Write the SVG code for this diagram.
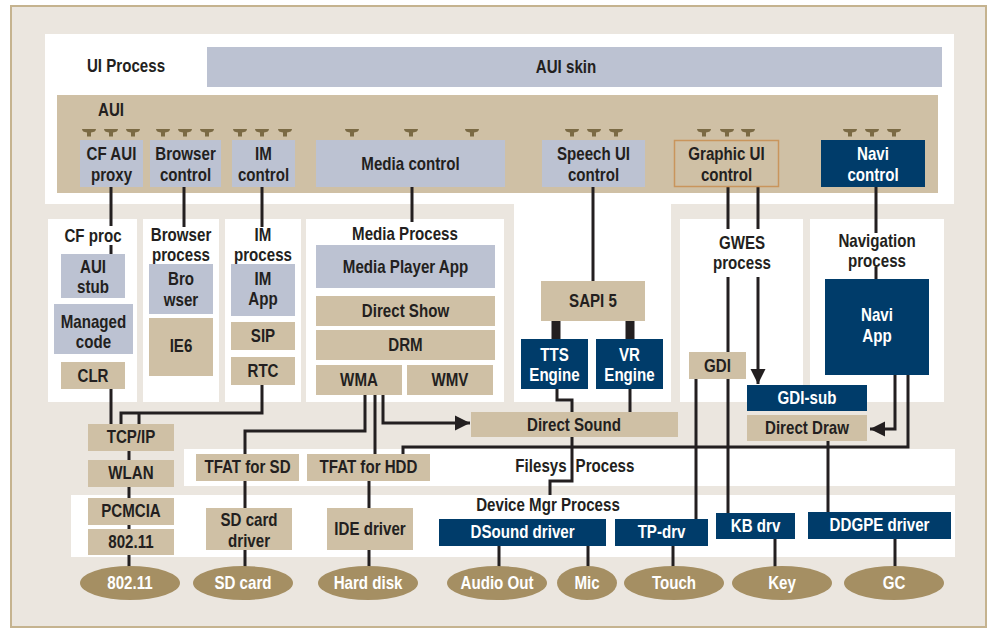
<svg xmlns="http://www.w3.org/2000/svg" width="992" height="629" viewBox="0 0 992 629">
<style>
.t{font-family:"Liberation Sans",Arial,sans-serif;font-weight:bold;font-size:18px;fill:#231f20;text-anchor:middle;dominant-baseline:central;transform-box:fill-box;transform-origin:center;transform:scaleX(0.84)}
.w{fill:#ffffff}
.pan{fill:#ffffff}
.blue{fill:#bcc2d2}
.tan{fill:#cfc0a5}
.navy{fill:#003c6a}
.ell{fill:#a58f63}
.ln{fill:none;stroke:#231f20;stroke-width:3}
.thick{fill:none;stroke:#231f20;stroke-width:9}
</style>
<defs>
<path id="tee" d="M-7,0 H7 Q7,3 2,3.5 V7.5 H-2 V3.5 Q-7,3 -7,0 Z" fill="#7b6a44"/>
<marker id="arr" viewBox="0 0 10 10" markerUnits="userSpaceOnUse" markerWidth="15" markerHeight="18" refX="10" refY="5" orient="auto">
<path d="M0,0 L10,5 L0,10 Z" fill="#231f20"/>
</marker>
</defs>

<g id="background">
<rect x="11" y="6" width="975" height="621" fill="#ebe6df" stroke="#c5b38f" stroke-width="2"/>
<rect class="pan" x="45" y="34" width="909" height="170"/>
<rect class="pan" x="514" y="200" width="157" height="202"/>
<rect class="pan" x="48" y="219" width="89" height="183"/>
<rect class="pan" x="143" y="219" width="76" height="183"/>
<rect class="pan" x="225" y="219" width="76" height="183"/>
<rect class="pan" x="306" y="219" width="198" height="183"/>
<rect class="pan" x="680" y="219" width="123" height="183"/>
<rect class="pan" x="810" y="219" width="134" height="183"/>
<rect class="pan" x="184" y="449" width="771" height="37"/>
<rect class="pan" x="71" y="495" width="884" height="62"/>
</g>

<g id="ui-process">
<text class="t" x="126" y="66">UI Process</text>
</g>
<g id="aui-skin">
<rect class="blue" x="207" y="47" width="735" height="40"/>
<text class="t" x="566" y="67">AUI skin</text>
</g>
<g id="aui">
<rect class="tan" x="57" y="95" width="881" height="98"/>
<text class="t" x="111" y="110">AUI</text>
<use href="#tee" x="89" y="129"/><use href="#tee" x="111" y="129"/><use href="#tee" x="133" y="129"/>
<use href="#tee" x="163" y="129"/><use href="#tee" x="185" y="129"/><use href="#tee" x="207" y="129"/>
<use href="#tee" x="240" y="129"/><use href="#tee" x="262" y="129"/><use href="#tee" x="285" y="129"/>
<use href="#tee" x="352" y="129"/><use href="#tee" x="411" y="129"/><use href="#tee" x="472" y="129"/>
<use href="#tee" x="572" y="129"/><use href="#tee" x="594" y="129"/><use href="#tee" x="616" y="129"/>
<use href="#tee" x="704" y="129"/><use href="#tee" x="727" y="129"/><use href="#tee" x="748" y="129"/>
<use href="#tee" x="850" y="129"/><use href="#tee" x="872" y="129"/><use href="#tee" x="894" y="129"/>
</g>

<g id="connectors">
<path class="ln" d="M111 187 V226 M111 245 V254"/>
<path class="ln" d="M184 187 V227"/>
<path class="ln" d="M262 187 V227"/>
<path class="ln" d="M412 187 V222"/>
<path class="ln" d="M593 187 V281"/>
<path class="ln" d="M728 187 V229 M728 277 V513"/>
<path class="ln" d="M758 187 V229"/>
<path class="ln" d="M758 277 V384" marker-end="url(#arr)"/>
<path class="ln" d="M876 187 V233 M876 267 V279"/>
<path class="thick" d="M556 321 V339 M630 321 V339"/>
<path class="ln" d="M557 389 V400 H572 V412"/>
<path class="ln" d="M630 389 V412"/>
<path class="ln" d="M111 389 V424"/>
<path class="ln" d="M262 385 V413 H121 V424 M139 413 V424"/>
<path class="ln" d="M129 451 V460 M129 487 V498 M129 525 V529 M129 555 V567"/>
<path class="ln" d="M365 395 V431 H245 V454"/>
<path class="ln" d="M375 395 V454"/>
<path class="ln" d="M383 395 V423 H470" marker-end="url(#arr)"/>
<path class="ln" d="M245 481 V508 M245 550 V567"/>
<path class="ln" d="M369 481 V508 M369 550 V567"/>
<path class="ln" d="M572 437 V481 H550 V495"/>
<path class="ln" d="M499 546 V567 M588 546 V567"/>
<path class="ln" d="M696 379 V519"/>
<path class="ln" d="M673 546 V567"/>
<path class="ln" d="M775 539 V567"/>
<path class="ln" d="M828 441 V512"/>
<path class="ln" d="M895 539 V567"/>
<path class="ln" d="M895 375 V429 H870" marker-end="url(#arr)"/>
<path class="ln" d="M908 375 V447 H403 V454"/>
</g>

<g id="cf-aui-proxy"><rect class="blue" x="80" y="140" width="63" height="47"/><text class="t" x="111.5" y="154">CF AUI</text><text class="t" x="111.5" y="175">proxy</text></g>
<g id="browser-control"><rect class="blue" x="150" y="140" width="71" height="47"/><text class="t" x="185.5" y="154">Browser</text><text class="t" x="185.5" y="175">control</text></g>
<g id="im-control"><rect class="blue" x="232" y="140" width="63" height="47"/><text class="t" x="263.5" y="154">IM</text><text class="t" x="263.5" y="175">control</text></g>
<g id="media-control"><rect class="blue" x="316" y="140" width="189" height="47"/><text class="t" x="410.5" y="164">Media control</text></g>
<g id="speech-ui-control"><rect class="blue" x="542" y="140" width="103" height="47"/><text class="t" x="593.5" y="154">Speech UI</text><text class="t" x="593.5" y="175">control</text></g>
<g id="graphic-ui-control"><rect class="tan" x="674.5" y="140.5" width="104" height="46" stroke="#c9955c" stroke-width="1.5"/><text class="t" x="726.5" y="154">Graphic UI</text><text class="t" x="726.5" y="175">control</text></g>
<g id="navi-control"><rect class="navy" x="821" y="140" width="104" height="47"/><text class="t w" x="873" y="154">Navi</text><text class="t w" x="873" y="175">control</text></g>

<g id="cf-proc"><text class="t" x="93" y="236">CF proc</text></g>
<g id="aui-stub"><rect class="blue" x="61" y="254" width="64" height="44"/><text class="t" x="93" y="267">AUI</text><text class="t" x="93" y="287">stub</text></g>
<g id="managed-code"><rect class="blue" x="54" y="304" width="79" height="50"/><text class="t" x="93.5" y="322">Managed</text><text class="t" x="93.5" y="342">code</text></g>
<g id="clr"><rect class="tan" x="61" y="362" width="64" height="27"/><text class="t" x="93" y="376">CLR</text></g>

<g id="browser-process"><text class="t" x="181" y="235">Browser</text><text class="t" x="181" y="255">process</text></g>
<g id="browser"><rect class="blue" x="149" y="264" width="64" height="50"/><text class="t" x="181" y="279">Bro</text><text class="t" x="181" y="300">wser</text></g>
<g id="ie6"><rect class="tan" x="149" y="318" width="64" height="58"/><text class="t" x="181" y="346">IE6</text></g>

<g id="im-process"><text class="t" x="263" y="235">IM</text><text class="t" x="263" y="255">process</text></g>
<g id="im-app"><rect class="blue" x="231" y="264" width="64" height="52"/><text class="t" x="263" y="279">IM</text><text class="t" x="263" y="299">App</text></g>
<g id="sip"><rect class="tan" x="231" y="322" width="64" height="28"/><text class="t" x="263" y="336">SIP</text></g>
<g id="rtc"><rect class="tan" x="231" y="357" width="64" height="28"/><text class="t" x="263" y="371">RTC</text></g>

<g id="media-process"><text class="t" x="405" y="234">Media Process</text></g>
<g id="media-player-app"><rect class="blue" x="316" y="245" width="179" height="43"/><text class="t" x="405.5" y="267">Media Player App</text></g>
<g id="direct-show"><rect class="tan" x="316" y="296" width="179" height="30"/><text class="t" x="405.5" y="311">Direct Show</text></g>
<g id="drm"><rect class="tan" x="316" y="330" width="179" height="30"/><text class="t" x="405.5" y="345">DRM</text></g>
<g id="wma"><rect class="tan" x="316" y="365" width="86" height="30"/><text class="t" x="359" y="380">WMA</text></g>
<g id="wmv"><rect class="tan" x="407" y="365" width="86" height="30"/><text class="t" x="450" y="380">WMV</text></g>

<g id="sapi5"><rect class="tan" x="541" y="281" width="104" height="40"/><text class="t" x="593" y="301">SAPI 5</text></g>
<g id="tts-engine"><rect class="navy" x="521" y="339" width="67" height="50"/><text class="t w" x="554.5" y="355">TTS</text><text class="t w" x="554.5" y="375">Engine</text></g>
<g id="vr-engine"><rect class="navy" x="596" y="339" width="67" height="50"/><text class="t w" x="629.5" y="355">VR</text><text class="t w" x="629.5" y="375">Engine</text></g>
<g id="direct-sound"><rect class="tan" x="471" y="412" width="207" height="25"/><text class="t" x="574" y="425">Direct Sound</text></g>

<g id="gwes-process"><text class="t" x="742" y="243">GWES</text><text class="t" x="742" y="263">process</text></g>
<g id="gdi"><rect class="tan" x="689" y="352" width="57" height="27"/><text class="t" x="717.5" y="366">GDI</text></g>
<g id="gdi-sub"><rect class="navy" x="747" y="385" width="120" height="26"/><text class="t w" x="807" y="398">GDI-sub</text></g>
<g id="direct-draw"><rect class="tan" x="747" y="415" width="120" height="26"/><text class="t" x="807" y="428">Direct Draw</text></g>

<g id="navigation-process"><text class="t" x="877" y="241">Navigation</text><text class="t" x="877" y="261">process</text></g>
<g id="navi-app"><rect class="navy" x="825" y="279" width="104" height="96"/><text class="t w" x="877" y="315">Navi</text><text class="t w" x="877" y="336">App</text></g>

<g id="tcp-ip"><rect class="tan" x="88" y="424" width="86" height="27"/><text class="t" x="131" y="437">TCP/IP</text></g>
<g id="wlan"><rect class="tan" x="88" y="460" width="86" height="27"/><text class="t" x="131" y="473">WLAN</text></g>
<g id="pcmcia"><rect class="tan" x="88" y="498" width="86" height="27"/><text class="t" x="131" y="511">PCMCIA</text></g>
<g id="box-802-11"><rect class="tan" x="88" y="529" width="86" height="26"/><text class="t" x="131" y="542">802.11</text></g>

<g id="filesys-process"><text class="t" x="541" y="466">Filesys</text><text class="t" x="605" y="466">Process</text></g>
<g id="tfat-sd"><rect class="tan" x="196" y="454" width="103" height="27"/><text class="t" x="247.5" y="467">TFAT for SD</text></g>
<g id="tfat-hdd"><rect class="tan" x="307" y="454" width="123" height="27"/><text class="t" x="368.5" y="467">TFAT for HDD</text></g>

<g id="device-mgr-process"><text class="t" x="548" y="505">Device Mgr Process</text></g>
<g id="sd-card-driver"><rect class="tan" x="206" y="508" width="86" height="42"/><text class="t" x="249" y="520">SD card</text><text class="t" x="249" y="541">driver</text></g>
<g id="ide-driver"><rect class="tan" x="327" y="508" width="86" height="42"/><text class="t" x="370" y="529">IDE driver</text></g>
<g id="dsound-driver"><rect class="navy" x="439" y="519" width="167" height="27"/><text class="t w" x="522.5" y="532">DSound driver</text></g>
<g id="tp-drv"><rect class="navy" x="615" y="519" width="93" height="27"/><text class="t w" x="661.5" y="532">TP-drv</text></g>
<g id="kb-drv"><rect class="navy" x="716" y="513" width="79" height="26"/><text class="t w" x="755.5" y="526">KB drv</text></g>
<g id="ddgpe-driver"><rect class="navy" x="808" y="512" width="143" height="27"/><text class="t w" x="879.5" y="525.5">DDGPE driver</text></g>

<g id="hw-802-11"><ellipse class="ell" cx="130" cy="583" rx="50" ry="17"/><text class="t w" x="130" y="583">802.11</text></g>
<g id="sd-card"><ellipse class="ell" cx="243" cy="583" rx="50" ry="17"/><text class="t w" x="243" y="583">SD card</text></g>
<g id="hard-disk"><ellipse class="ell" cx="368" cy="583" rx="50" ry="17"/><text class="t w" x="368" y="583">Hard disk</text></g>
<g id="audio-out"><ellipse class="ell" cx="497" cy="583" rx="50" ry="17"/><text class="t w" x="497" y="583">Audio Out</text></g>
<g id="mic"><ellipse class="ell" cx="587" cy="583" rx="30" ry="17"/><text class="t w" x="587" y="583">Mic</text></g>
<g id="touch"><ellipse class="ell" cx="674" cy="583" rx="50" ry="17"/><text class="t w" x="674" y="583">Touch</text></g>
<g id="key"><ellipse class="ell" cx="782" cy="583" rx="50" ry="17"/><text class="t w" x="782" y="583">Key</text></g>
<g id="gc"><ellipse class="ell" cx="894" cy="583" rx="50" ry="17"/><text class="t w" x="894" y="583">GC</text></g>
</svg>
